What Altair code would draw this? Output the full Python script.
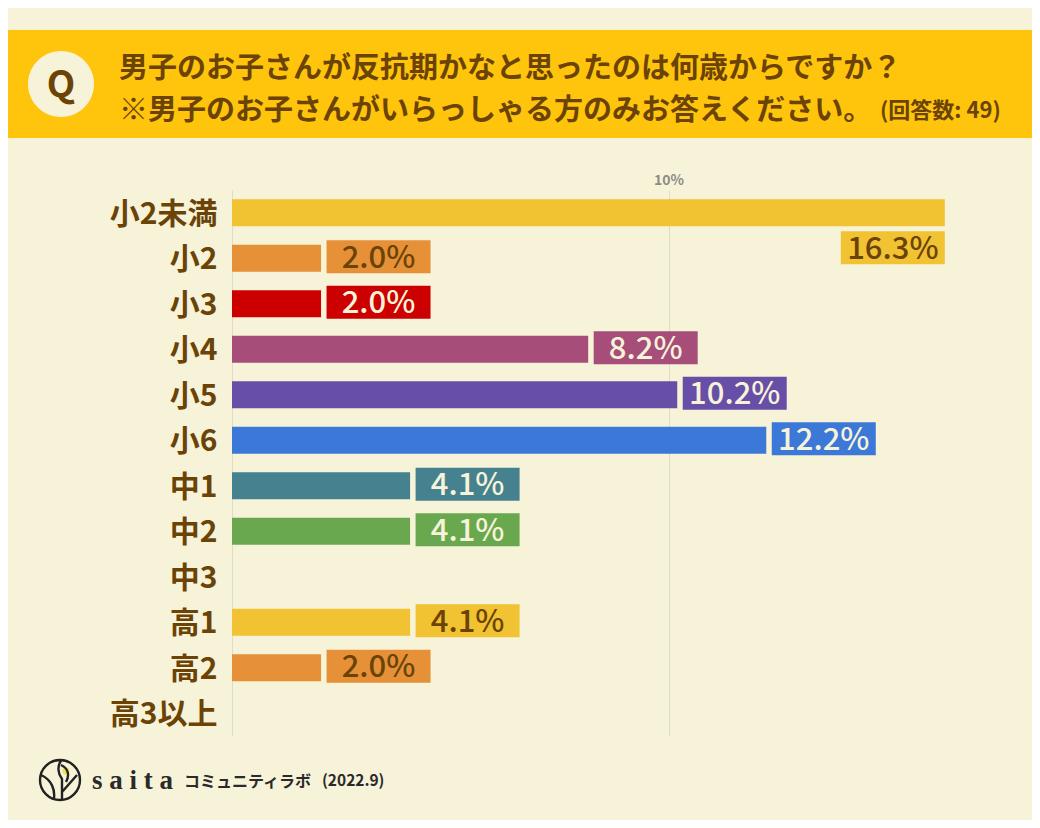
import altair as alt
import pandas as pd

categories = ["小2未満", "小2", "小3", "小4", "小5", "小6", "中1", "中2", "中3", "高1", "高2", "高3以上"]
values = [16.33, 2.04, 2.04, 8.16, 10.2, 12.24, 4.08, 4.08, 0, 4.08, 2.04, 0]
labels = ["16.3%", "2.0%", "2.0%", "8.2%", "10.2%", "12.2%", "4.1%", "4.1%", "", "4.1%", "2.0%", ""]
bar_colors = ["#f1c232", "#e69138", "#cc0000", "#a64d79", "#674ea7", "#3c78d8",
              "#45818e", "#6aa84f", "#f1c232", "#f1c232", "#e69138", "#f1c232"]
text_colors = ["#6b4306", "#6b4306", "#f7f3d9", "#f7f3d9", "#f7f3d9", "#f7f3d9",
               "#f7f3d9", "#f7f3d9", "#6b4306", "#6b4306", "#6b4306", "#6b4306"]

BG = "#f7f3d9"
BROWN = "#6b4306"
JP = "Noto Sans CJK JP"

# plot area in page pixels: x 232..1032, y 190..736; scale 43.6 px per 1%
PLOT_W = 800
PLOT_H = 546
OX, OY = 232, 190

df = pd.DataFrame({"cat": categories, "v": values, "label": labels,
                   "c": bar_colors, "tc": text_colors})
df["zero"] = 0
lab = df[df["label"] != ""]
inside = lab[lab["cat"] != "小2未満"]
first = lab[lab["cat"] == "小2未満"]

x_scale = alt.Scale(domain=[0, PLOT_W / 43.65], nice=False, zero=False)
y_enc = alt.Y("cat:N", sort=categories,
              scale=alt.Scale(domain=categories, paddingInner=0, paddingOuter=0),
              axis=alt.Axis(title=None, ticks=False, labelFont=JP, labelFontSize=30,
                            labelFontWeight="bold", labelColor=BROWN, labelPadding=15,
                            labelOffset=2, domainColor="#dedccb", domainWidth=1, grid=False,
                            labelLimit=200))
x_enc = alt.X("v:Q", scale=x_scale,
              axis=alt.Axis(title=None, orient="top", values=[10], labelExpr="datum.value + '%'",
                            ticks=False, domain=False, grid=True, gridColor="#dedccb",
                            labelFont=JP, labelFontSize=14, labelFontWeight="bold",
                            labelColor="#8f8c85", labelPadding=3))
color_enc = alt.Color("c:N", scale=None, legend=None)

bars = alt.Chart(df).mark_bar(size=27).encode(x=x_enc, x2=alt.X2("zero:Q"), y=y_enc, color=color_enc)
boxes = alt.Chart(inside).mark_bar(size=33, xOffset=5.5, x2Offset=109.5, yOffset=-1.5).encode(
    x=x_enc, x2=alt.X2("v:Q"), y=y_enc, color=color_enc)
box_first = alt.Chart(first).mark_bar(size=33, xOffset=-104, x2Offset=0, yOffset=35).encode(
    x=x_enc, x2=alt.X2("v:Q"), y=y_enc, color=color_enc)
texts = alt.Chart(inside).mark_text(font=JP, fontSize=31, fontWeight=500, dx=57.5, dy=0.5,
                                    align="center", baseline="middle").encode(
    x=x_enc, y=y_enc, text="label:N", color=alt.Color("tc:N", scale=None, legend=None))
text_first = alt.Chart(first).mark_text(font=JP, fontSize=31, fontWeight=500, dx=-52, dy=37,
                                        align="center", baseline="middle").encode(
    x=x_enc, y=y_enc, text="label:N", color=alt.Color("tc:N", scale=None, legend=None))

one = pd.DataFrame({"a": [0]})


def px(v):
    return alt.value(v - OX)


def py(v):
    return alt.value(v - OY)


def note(text, x, y, size, weight="bold", color=BROWN, font=JP, align="left"):
    return alt.Chart(one).mark_text(text=text, font=font, fontSize=size, fontWeight=weight,
                                    color=color, align=align, baseline="middle").encode(x=px(x), y=py(y))


header = alt.Chart(one).mark_rect(color="#ffc40c").encode(x=px(8), x2=px(1032), y=py(30), y2=py(138))
q_circle = alt.Chart(one).mark_point(shape="M1,0A1,1 0 1 1 -1,0A1,1 0 1 1 1,0Z", size=4356, filled=True,
                                     color=BG, opacity=1).encode(x=px(61), y=py(84))
LOGO = ("M1,0A1,1 0 1 1 -1,0A1,1 0 1 1 1,0Z"
        "M0.1,0.95L0.1,-0.05C-0.1,-0.3 -0.15,-0.7 0.05,-0.95"
        "M0.1,0.6L0.85,-0.25"
        "M0.05,-0.75C0.4,-0.6 0.5,-0.25 0.3,0.1"
        "M-0.95,-0.25C-0.4,0 -0.25,0.5 -0.3,0.9")
logo_dot = alt.Chart(one).mark_point(shape="circle", size=50, filled=True, color="#f3df4d", opacity=1).encode(
    x=px(66), y=py(771))
logo = alt.Chart(one).mark_point(shape=LOGO, size=1600, filled=False, color="#222222", strokeWidth=2.4,
                                 opacity=1).encode(x=px(60), y=py(780))

chart = alt.layer(
    header, q_circle,
    note("Q", 61, 86, 37, align="center"),
    note("男子のお子さんが反抗期かなと思ったのは何歳からですか？", 119, 69, 29),
    note("※男子のお子さんがいらっしゃる方のみお答えください。", 119, 111, 29),
    note("(回答数: 49)", 880, 111, 22),
    bars, boxes, box_first, texts, text_first,
    logo_dot, logo,
    note("s a i t a", 92, 781, 27, color="#2a2a2a", font="Liberation Serif"),
    note("コミュニティラボ", 184, 782, 16, color="#2a2a2a"),
    note("(2022.9)", 322, 781, 15.5, color="#2a2a2a"),
).resolve_scale(color="independent").properties(
    width=PLOT_W, height=PLOT_H,
    background=BG,
    autosize=alt.AutoSizeParams(type="none"),
    padding={"left": OX - 8, "top": OY - 8, "right": 0, "bottom": 820 - OY - PLOT_H},
).configure_view(stroke=None)

chart.save("out.html", embed_options={"renderer": "svg", "actions": False})
